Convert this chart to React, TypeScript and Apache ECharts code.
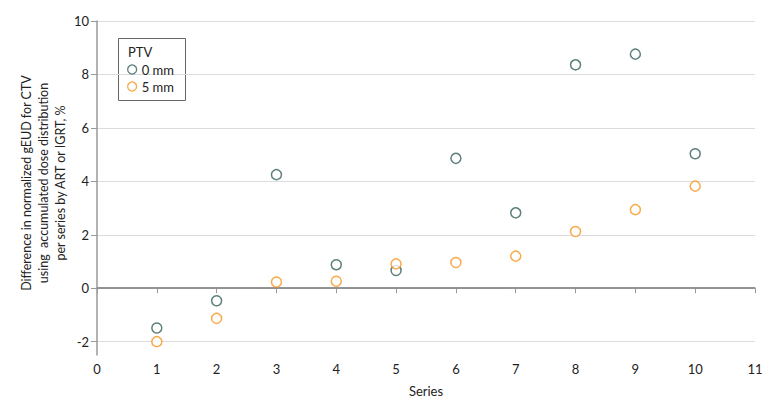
import React, { useEffect, useRef } from "react";
import * as echarts from "echarts";

const seriesX = [1, 2, 3, 4, 5, 6, 7, 8, 9, 10];
const ptv0mm = [-1.49, -0.47, 4.25, 0.88, 0.66, 4.86, 2.82, 8.36, 8.76, 5.03];
const ptv5mm = [-2.0, -1.13, 0.23, 0.26, 0.91, 0.96, 1.2, 2.12, 2.94, 3.82];
const seriesNames = ["0 mm", "5 mm"];
const colors = ["#34605d", "#f7941d"];
const yTicks = [-2, 0, 2, 4, 6, 8, 10];

const FONT = "Lato, 'Open Sans', sans-serif";
const TITLE_FONT = "'Liberation Sans Narrow', Lato, sans-serif";

export default function App() {
  const ref = useRef<HTMLDivElement>(null);
  useEffect(() => {
    if (!ref.current) return;
    const chart = echarts.init(ref.current, undefined, { renderer: "svg" });
    const mk = (vals: number[]) => seriesX.map((x, i) => [x, vals[i]]);
    chart.setOption({
      animation: false,
      textStyle: { fontFamily: FONT },
      grid: { left: 97, right: 25, top: 21, bottom: 54 },
      xAxis: {
        type: "value",
        min: 0,
        max: 11,
        interval: 1,
        name: "Series",
        nameLocation: "middle",
        nameGap: 29,
        nameTextStyle: { fontSize: 13, color: "#222", fontFamily: FONT },
        axisLine: { show: true, lineStyle: { color: "#999", width: 1.5 } },
        axisTick: { show: true, length: 5, lineStyle: { color: "#999" } },
        axisLabel: { fontSize: 13, color: "#222", margin: 7, fontFamily: FONT },
        splitLine: { show: false },
      },
      yAxis: {
        type: "value",
        min: -2.5,
        max: 10,
        axisLine: { show: true, onZero: false, lineStyle: { color: "#999", width: 1.5 } },
        axisTick: {
          show: true,
          length: 6,
          customValues: yTicks,
          lineStyle: { color: "#999" },
        },
        axisLabel: {
          fontSize: 13,
          color: "#222",
          margin: 8,
          fontFamily: FONT,
          customValues: yTicks,
          formatter: (v: number) => (v < 0 ? "-" + Math.abs(v) : String(v)),
        },
        splitLine: {
          show: true,
          lineStyle: { color: "#dcdcdc", width: 1.2 },
        },
      },
      legend: {
        orient: "vertical",
        left: 122,
        top: 56,
        itemWidth: 9,
        itemHeight: 9,
        itemGap: 0,
        textStyle: { fontSize: 13, lineHeight: 17, color: "#222", fontFamily: FONT, fontWeight: "normal" },
        data: seriesNames.map((n, i) => ({
          name: n,
          itemStyle: { color: "#fff", borderColor: colors[i], borderWidth: 1.3 },
        })),
      },
      graphic: [
        {
          type: "rect",
          shape: { x: 118.5, y: 38.5, width: 67, height: 62 },
          style: { fill: "#fff", stroke: "#666", lineWidth: 1 },
        },
        {
          type: "text",
          x: 128,
          y: 45,
          style: { text: "PTV", fontSize: 13, fill: "#222", fontFamily: FONT },
        },
        {
          type: "text",
          x: 43,
          y: 183,
          rotation: Math.PI / 2,
          style: {
            text:
              "Difference in normalized gEUD for CTV\nusing  accumulated dose distribution\nper series by ART or IGRT, %",
            fontSize: 12.5,
            lineHeight: 17,
            fill: "#222",
            align: "center",
            verticalAlign: "middle",
            fontFamily: TITLE_FONT,
          },
        },
      ],
      series: [
        {
          name: seriesNames[0],
          type: "scatter",
          symbol: "circle",
          symbolSize: 10,
          itemStyle: { color: "#fff", borderColor: colors[0], borderWidth: 1.5 },
          data: mk(ptv0mm),
          z: 3,
          markLine: {
            silent: true,
            symbol: "none",
            label: { show: false },
            lineStyle: { color: "#8a8a8a", width: 1.5, type: "solid" },
            data: [{ yAxis: 0 }],
            z: 1,
          },
        },
        {
          name: seriesNames[1],
          type: "scatter",
          symbol: "circle",
          symbolSize: 10,
          itemStyle: { color: "#fff", borderColor: colors[1], borderWidth: 1.5 },
          data: mk(ptv5mm),
          z: 3,
        },
      ],
    });
    return () => chart.dispose();
  }, []);
  return (
    <div
      ref={ref}
      style={{ position: "absolute", left: 0, top: 0, width: 780, height: 409 }}
    />
  );
}
